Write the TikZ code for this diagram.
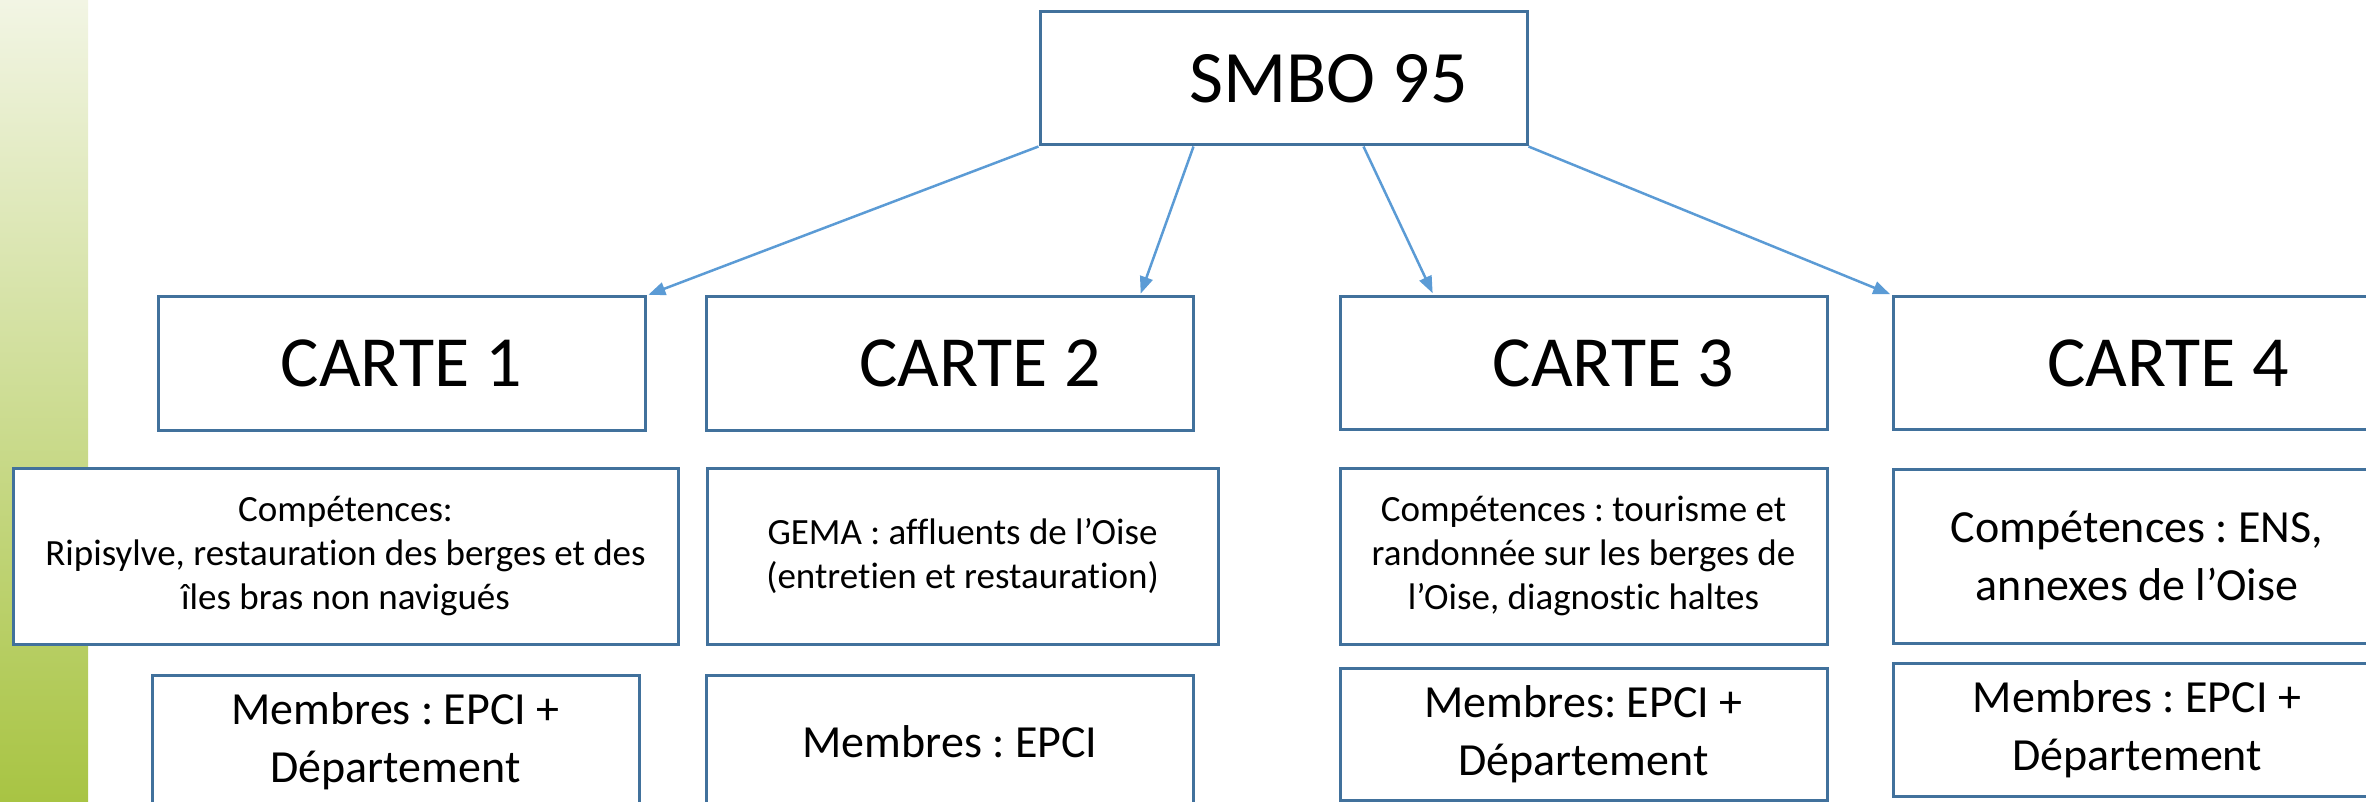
\documentclass[tikz,border=0pt]{standalone}
\usepackage{fontspec}
\setmainfont{Carlito}[Ligatures=NoCommon]
\usetikzlibrary{arrows.meta}
\definecolor{cadre}{HTML}{41719C}
\definecolor{fleche}{HTML}{5B9BD5}
\definecolor{vertclair}{HTML}{F2F5E4}
\definecolor{vertfonce}{HTML}{A8C443}
\frenchspacing

\begin{document}
\begin{tikzpicture}[x=1pt,y=-1pt,
  boite/.style={draw=cadre, fill=white, line width=3pt, rectangle, inner sep=0pt},
  titre/.style={boite, minimum width=487pt, minimum height=133pt, font=\fontsize{72}{86}\selectfont},
  comp/.style={boite, align=center, minimum height=176pt, font=\fontsize{37}{44}\selectfont},
  grand/.style={boite, align=center, minimum width=487pt, font=\fontsize{46}{58}\selectfont},
  fl/.style={draw=fleche, line width=2.5pt, -{Triangle[length=17pt,width=13pt]}, shorten >=2pt}]
\useasboundingbox (0,0) rectangle (2366,802);
\clip (0,0) rectangle (2366,802);
\shade[top color=vertclair, bottom color=vertfonce] (0,0) rectangle (88,802);

\node[titre, font=\fontsize{74}{88}\selectfont] (smbo) at (1283.5,78.5) {\hspace*{90pt}SMBO 95};

\node[titre] (carte1) at (401.5,363.5) {CARTE 1};
\node[titre] (carte2) at (950,363.5) {\hspace*{60pt}CARTE 2};
\node[titre] (carte3) at (1583.5,363) {\hspace*{60pt}CARTE 3};
\node[titre] (carte4) at (2137,363) {\hspace*{62pt}CARTE 4};

\node[comp, minimum width=665pt] (comp1) at (345.5,556) {Compétences:\\Ripisylve, restauration des berges et des\\îles bras non navigués};
\node[comp, minimum width=511pt] (comp2) at (962.5,556) {GEMA : affluents de l’Oise\\(entretien et restauration)};
\node[comp, minimum width=487pt] (comp3) at (1583.5,556) {Compétences : tourisme et\\randonnée sur les berges de\\l’Oise, diagnostic haltes};
\node[grand, minimum height=174pt] (comp4) at (2137,556) {Compétences : ENS,\\annexes de l’Oise};

\node[grand, minimum height=133pt] (memb1) at (395.5,741.5) {Membres : EPCI +\\Département};
\node[grand, minimum height=133pt] (memb2) at (950,741.5) {Membres : EPCI};
\node[grand, minimum height=132pt] (memb3) at (1583.5,734) {Membres: EPCI +\\Département};
\node[grand, minimum height=133pt] (memb4) at (2137,729.5) {Membres : EPCI +\\Département};

\path[fl] (smbo.south west) -- (carte1.north east);
\path[fl] ([xshift=-90pt]smbo.south) -- ([xshift=190pt]carte2.north);
\path[fl] ([xshift=80pt]smbo.south) -- ([xshift=-150pt]carte3.north);
\path[fl] (smbo.south east) -- (carte4.north west);
\end{tikzpicture}
\end{document}
